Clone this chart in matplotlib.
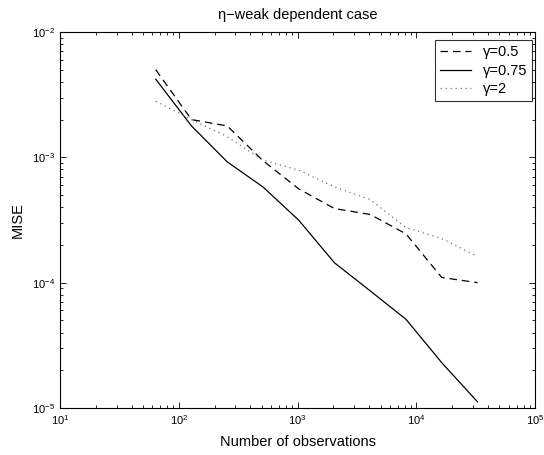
import numpy as np
import matplotlib
matplotlib.use("Agg")
import matplotlib.pyplot as plt
from matplotlib.ticker import LogLocator, LogFormatterSciNotation, NullFormatter

plt.rcParams['font.family'] = ['Liberation Sans', 'DejaVu Sans']
plt.rcParams['mathtext.default'] = 'regular'

# --- data ------------------------------------------------------------------
n_obs = [64, 128, 256, 512, 1024, 2048, 4096, 8192, 16384, 32768]
mise_g05 = [5.0e-3, 2.0e-3, 1.78e-3, 9.4e-4, 5.6e-4, 3.9e-4, 3.5e-4, 2.45e-4, 1.1e-4, 1.0e-4]
mise_g075 = [4.2e-3, 1.78e-3, 9.2e-4, 5.8e-4, 3.15e-4, 1.44e-4, 8.6e-5, 5.1e-5, 2.3e-5, 1.12e-5]
mise_g2 = [2.8e-3, 2.0e-3, 1.46e-3, 9.5e-4, 7.9e-4, 5.8e-4, 4.6e-4, 2.75e-4, 2.25e-4, 1.62e-4]
labels = ["\u03b3=0.5", "\u03b3=0.75", "\u03b3=2"]

fig = plt.figure(figsize=(5.44, 4.55), dpi=100)
ax = fig.add_axes([0.1103, 0.1033, 0.8732, 0.8264])

ax.loglog(n_obs, mise_g05, color="k", ls=(0, (6, 4)), lw=0.9, label=labels[0])
ax.loglog(n_obs, mise_g075, color="k", ls="-", lw=0.9, label=labels[1])
ax.loglog(n_obs, mise_g2, color="0.45", ls=(0, (1, 3)), lw=0.9, label=labels[2])

ax.set_xlim(1e1, 1e5); ax.set_ylim(1e-5, 1e-2)
for axis in (ax.xaxis, ax.yaxis):
    axis.set_major_locator(LogLocator(base=10, numticks=10))
    axis.set_minor_locator(LogLocator(base=10, subs=np.arange(2, 10), numticks=20))
    axis.set_major_formatter(LogFormatterSciNotation())
    axis.set_minor_formatter(NullFormatter())
ax.tick_params(which="both", direction="in", top=True, right=True, labelsize=8, width=0.6)
ax.tick_params(which="major", length=4)
ax.tick_params(which="minor", length=2)
for s in ax.spines.values():
    s.set_linewidth(0.8)

ax.set_xlabel("Number of observations", fontsize=10.5, labelpad=6)
ax.set_ylabel("MISE", fontsize=10.5, labelpad=5)
ax.set_title("\u03b7\u2212weak dependent case", fontsize=10.5, pad=9)

leg = ax.legend(loc="upper right", bbox_to_anchor=(0.994, 0.979), fontsize=10.5,
                frameon=True, fancybox=False, edgecolor="k", handlelength=2.1,
                handletextpad=0.8, borderaxespad=0.0, labelspacing=0.32,
                borderpad=0.35)
leg.get_frame().set_linewidth(0.8)

fig.savefig("out.png", dpi=100)
